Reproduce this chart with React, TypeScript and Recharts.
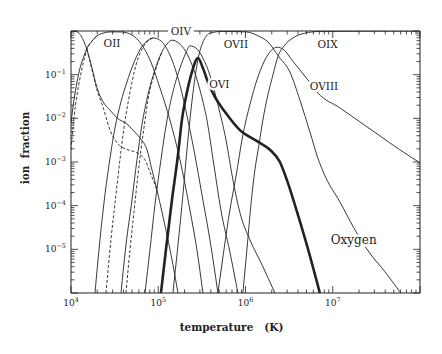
import { Line, LineChart, ReferenceDot, XAxis, YAxis } from "recharts";

// every point is [log10 T (K), log10 ion fraction]
type Pt = [number, number];

const OI: Pt[] = [[4.0, 0], [4.07, -0.02], [4.115, -0.11], [4.15, -0.25], [4.183, -0.43], [4.241, -0.85], [4.298, -1.3], [4.367, -1.62], [4.447, -1.81], [4.527, -1.99], [4.641, -2.13], [4.71, -2.27], [4.79, -2.45], [4.871, -2.72], [4.928, -3.18], [4.985, -3.64], [5.042, -4.14], [5.1, -4.67], [5.168, -5.35], [5.226, -6.0]];
const OI_ALT: Pt[] = [[4.183, -0.43], [4.241, -0.89], [4.298, -1.35], [4.367, -1.74], [4.447, -2.27], [4.504, -2.49], [4.561, -2.63], [4.653, -2.72], [4.756, -2.79], [4.848, -2.95], [4.905, -3.23], [4.962, -3.52], [4.985, -3.64]];
const OII: Pt[] = [[4.0, -2.11], [4.034, -1.58], [4.069, -1.17], [4.103, -0.85], [4.149, -0.57], [4.183, -0.39], [4.241, -0.23], [4.298, -0.11], [4.367, -0.05], [4.447, -0.02], [4.561, -0.02], [4.653, -0.05], [4.733, -0.14], [4.813, -0.32], [4.905, -0.66], [5.019, -1.3], [5.134, -2.04], [5.249, -2.95], [5.363, -4.1], [5.443, -5.01], [5.512, -6.0]];
const OII_ALT: Pt[] = [[4.0, -2.72], [4.034, -1.99], [4.069, -1.46], [4.103, -1.08], [4.149, -0.66], [4.183, -0.43], [4.241, -0.23], [4.298, -0.11]];
const OIII: Pt[] = [[4.275, -6.0], [4.332, -4.78], [4.389, -3.75], [4.447, -2.91], [4.504, -2.22], [4.573, -1.62], [4.641, -1.17], [4.71, -0.78], [4.79, -0.43], [4.871, -0.23], [4.939, -0.16], [5.019, -0.21], [5.134, -0.55], [5.249, -1.24], [5.34, -2.04], [5.42, -2.84], [5.501, -3.75], [5.592, -4.78], [5.684, -6.0]];
const OIII_ALT: Pt[] = [[4.401, -6.0], [4.458, -4.78], [4.515, -3.75], [4.561, -2.95], [4.607, -2.22], [4.653, -1.65], [4.699, -1.17], [4.745, -0.78], [4.802, -0.46], [4.871, -0.25], [4.939, -0.16]];
const OIV: Pt[] = [[4.573, -6.0], [4.63, -4.9], [4.699, -3.87], [4.756, -2.95], [4.813, -2.15], [4.882, -1.46], [4.962, -0.89], [5.042, -0.48], [5.1, -0.3], [5.157, -0.21], [5.249, -0.3], [5.363, -0.66], [5.478, -1.35], [5.558, -2.04], [5.638, -3.07], [5.718, -4.1], [5.821, -5.06], [5.913, -6.0]];
const OIV_ALT: Pt[] = [[4.63, -6.0], [4.676, -5.01], [4.722, -4.14], [4.767, -3.3], [4.802, -2.72], [4.836, -2.22], [4.882, -1.58], [4.962, -0.94], [5.042, -0.48]];
const OV: Pt[] = [[4.848, -6.0], [4.905, -5.01], [4.962, -3.98], [5.031, -2.95], [5.1, -2.04], [5.18, -1.3], [5.249, -0.85], [5.317, -0.5], [5.363, -0.34], [5.432, -0.39], [5.512, -0.62], [5.592, -1.01], [5.684, -1.69], [5.776, -2.49], [5.856, -3.41], [5.936, -4.16], [6.05, -4.78], [6.188, -5.35], [6.337, -6.0]];
const OVI: Pt[] = [[5.031, -6.0], [5.088, -5.01], [5.157, -3.87], [5.226, -2.84], [5.271, -2.04], [5.329, -1.4], [5.386, -0.94], [5.455, -0.62], [5.512, -0.85], [5.569, -1.17], [5.649, -1.51], [5.764, -1.85], [5.936, -2.27], [6.131, -2.52], [6.28, -2.72], [6.394, -3.0], [6.474, -3.41], [6.566, -3.98], [6.703, -4.9], [6.852, -6.0]];
const OVII: Pt[] = [[5.168, -6.0], [5.226, -4.9], [5.283, -3.75], [5.329, -2.72], [5.375, -1.81], [5.42, -1.08], [5.466, -0.55], [5.523, -0.21], [5.592, -0.05], [5.73, -0.01], [6.005, -0.02], [6.142, -0.11], [6.257, -0.25], [6.383, -0.59], [6.509, -0.94], [6.623, -1.58], [6.738, -2.31], [6.829, -2.91], [6.921, -3.36], [7.081, -3.91], [7.242, -4.51], [7.414, -5.06], [7.597, -5.51], [7.78, -6.0]];
const OVIII: Pt[] = [[5.684, -6.0], [5.753, -5.01], [5.821, -4.1], [5.89, -3.34], [5.97, -2.38], [6.05, -1.69], [6.131, -1.12], [6.211, -0.71], [6.28, -0.48], [6.36, -0.37], [6.44, -0.43], [6.531, -0.66], [6.623, -0.89], [6.715, -1.12], [6.829, -1.42], [7.081, -1.76], [7.31, -2.08], [7.54, -2.4], [7.769, -2.72], [8.0, -3.02]];
const OIX: Pt[] = [[5.97, -6.0], [6.016, -5.01], [6.062, -3.98], [6.108, -3.18], [6.154, -2.61], [6.199, -2.04], [6.257, -1.46], [6.314, -1.01], [6.371, -0.59], [6.451, -0.32], [6.543, -0.16], [6.68, -0.05], [6.852, -0.01], [8.0, 0]];

// curve labels: [text, log T, log f]
const LABELS: [string, number, number][] = [
  ["OII", 4.47, -0.27],
  ["OVII", 5.89, -0.3],
  ["OIX", 6.94, -0.3],
  ["OVI", 5.7, -1.21],
  ["OVIII", 6.9, -1.26],
];
// label sitting on the top frame (the frame is broken around it), at this log T
const FRAME_LABEL: [string, number] = ["OIV", 5.26];
const TITLE_LABEL: [string, number, number] = ["Oxygen", 7.24, -4.78];

const X_DOMAIN = [4, 8];
const X_DECADES = [4, 5, 6, 7];
const X_LABELED = [4, 5, 6, 7];
const Y_DECADES = [-6, -5, -4, -3, -2, -1];
const Y_LABELED = [-5, -4, -3, -2, -1];
const MINOR = [1, 2, 3, 4, 5, 6, 7, 8, 9];

const X_TICKS = [...X_DECADES.flatMap((d) => MINOR.map((k) => d + Math.log10(k))), 8];
const Y_TICKS = [...Y_DECADES.flatMap((d) => MINOR.map((k) => d + Math.log10(k))), 0];

const W = 442;
const H = 354;
const MARGIN = { top: 30, right: 21, bottom: 0, left: 0 };
const Y_AXIS_W = 71;
const PLOT_W = W - MARGIN.left - MARGIN.right - Y_AXIS_W - 1;
const FRAME_GAP = 26;
const gapCenter = ((FRAME_LABEL[1] - X_DOMAIN[0]) / (X_DOMAIN[1] - X_DOMAIN[0])) * PLOT_W;
const TOP_DASH = `${gapCenter - FRAME_GAP / 2} ${FRAME_GAP} ${PLOT_W}`;

const INK = "#222";
const SERIF = '"DejaVu Serif", "Liberation Serif", serif';
const MAJOR_LEN = 7;
const MINOR_LEN = 3.5;

const SERIES = [
  { id: "OI", pts: OI, width: 0.9, dash: undefined },
  { id: "OI-alt", pts: OI_ALT, width: 0.9, dash: "3 2" },
  { id: "OII", pts: OII, width: 0.9, dash: undefined },
  { id: "OII-alt", pts: OII_ALT, width: 0.9, dash: "3 2" },
  { id: "OIII", pts: OIII, width: 0.9, dash: undefined },
  { id: "OIII-alt", pts: OIII_ALT, width: 0.9, dash: "3 2" },
  { id: "OIV", pts: OIV, width: 0.9, dash: undefined },
  { id: "OIV-alt", pts: OIV_ALT, width: 0.9, dash: "3 2" },
  { id: "OV", pts: OV, width: 0.9, dash: undefined },
  { id: "OVII", pts: OVII, width: 0.9, dash: undefined },
  { id: "OVIII", pts: OVIII, width: 0.9, dash: undefined },
  { id: "OIX", pts: OIX, width: 0.9, dash: undefined },
  { id: "OVI", pts: OVI, width: 2.6, dash: undefined },
];

const rows = (pts: Pt[]) => pts.map(([t, f]) => ({ t, f }));
const isMajor = (v: number) => Math.abs(v - Math.round(v)) < 1e-9;

function BottomTick({ x, y, payload }: any) {
  const v = payload.value;
  const exp = Math.round(v);
  return (
    <g>
      <line x1={x} y1={y} x2={x} y2={y - (isMajor(v) ? MAJOR_LEN : MINOR_LEN)} stroke={INK} strokeWidth={0.8} />
      {isMajor(v) && X_LABELED.includes(exp) && (
        <text x={x} y={y + 13} textAnchor="middle" fontSize={9} fill={INK} fontFamily={SERIF}>
          10<tspan dy={-4} fontSize={6.5}>{exp}</tspan>
        </text>
      )}
    </g>
  );
}

function TopTick({ x, y, payload }: any) {
  const v = payload.value;
  const hidden = Math.abs(v - FRAME_LABEL[1]) * (PLOT_W / (X_DOMAIN[1] - X_DOMAIN[0])) < FRAME_GAP / 2;
  if (hidden) return <g />;
  return <line x1={x} y1={y} x2={x} y2={y + (isMajor(v) ? MAJOR_LEN : MINOR_LEN)} stroke={INK} strokeWidth={0.8} />;
}

function LeftTick({ x, y, payload }: any) {
  const v = payload.value;
  const exp = Math.round(v);
  return (
    <g>
      <line x1={x} y1={y} x2={x + (isMajor(v) ? MAJOR_LEN : MINOR_LEN)} y2={y} stroke={INK} strokeWidth={0.8} />
      {isMajor(v) && Y_LABELED.includes(exp) && (
        <text x={x - 5} y={y + 3} textAnchor="end" fontSize={9} fill={INK} fontFamily={SERIF}>
          10<tspan dy={-4} fontSize={6.5}>{`\u2212${-exp}`}</tspan>
        </text>
      )}
    </g>
  );
}

function RightTick({ x, y, payload }: any) {
  const v = payload.value;
  return <line x1={x} y1={y} x2={x - (isMajor(v) ? MAJOR_LEN : MINOR_LEN)} y2={y} stroke={INK} strokeWidth={0.8} />;
}

function haloText(text: string, x: number, y: number, size: number) {
  return (
    <text
      x={x}
      y={y}
      textAnchor="middle"
      dominantBaseline="central"
      fontSize={size}
      fontFamily={SERIF}
      fill={INK}
      stroke="#fff"
      strokeWidth={5}
      strokeLinejoin="round"
      paintOrder="stroke"
    >
      {text}
    </text>
  );
}

const curveLabel = (text: string, size: number) => (p: any) => haloText(text, p.cx, p.cy, size);

export default function App() {
  return (
    <div style={{ position: "absolute", left: 0, top: 0, width: W, height: H, background: "#fff" }}>
      <LineChart width={W} height={H} margin={MARGIN}>
        <XAxis
          xAxisId="b"
          dataKey="t"
          type="number"
          domain={X_DOMAIN}
          allowDataOverflow
          ticks={X_TICKS}
          interval={0}
          height={61}
          tickSize={0}
          tickMargin={0}
          tickLine={false}
          axisLine={{ stroke: INK, strokeWidth: 1 }}
          tick={(p: any) => <BottomTick {...p} />}
          label={{
            content: (p: any) => {
              const vb = p.viewBox || { x: 71, y: 293, width: 349 };
              return (
                <text x={vb.x + vb.width / 2 - 14} y={vb.y + 38} textAnchor="middle" fontSize={10.5} fontWeight="bold" fill={INK} fontFamily={SERIF}>
                  {"temperature\u00a0\u00a0\u00a0(K)"}
                </text>
              );
            },
          }}
        />
        <XAxis
          xAxisId="top"
          orientation="top"
          dataKey="t"
          type="number"
          domain={X_DOMAIN}
          allowDataOverflow
          ticks={X_TICKS}
          interval={0}
          height={1}
          tickSize={0}
          tickMargin={0}
          tickLine={false}
          axisLine={{ stroke: INK, strokeWidth: 1, strokeDasharray: TOP_DASH }}
          tick={(p: any) => <TopTick {...p} />}
        />
        <YAxis
          yAxisId="l"
          dataKey="f"
          type="number"
          domain={[-6, 0]}
          allowDataOverflow
          ticks={Y_TICKS}
          interval={0}
          width={Y_AXIS_W}
          tickSize={0}
          tickMargin={0}
          tickLine={false}
          axisLine={{ stroke: INK, strokeWidth: 1 }}
          tick={(p: any) => <LeftTick {...p} />}
          label={{
            content: () => {
              const cx = 25;
              const cy = 148;
              return (
                <text x={cx} y={cy} transform={`rotate(-90 ${cx} ${cy})`} textAnchor="middle" dominantBaseline="central" fontSize={10.5} fontWeight="bold" fill={INK} fontFamily={SERIF}>
                  {"ion\u00a0\u00a0fraction"}
                </text>
              );
            },
          }}
        />
        <YAxis
          yAxisId="r"
          orientation="right"
          dataKey="f"
          type="number"
          domain={[-6, 0]}
          allowDataOverflow
          ticks={Y_TICKS}
          interval={0}
          width={1}
          tickSize={0}
          tickMargin={0}
          tickLine={false}
          axisLine={{ stroke: INK, strokeWidth: 1 }}
          tick={(p: any) => <RightTick {...p} />}
        />
        {/* invisible copy so the mirrored top/right axes get drawn */}
        <Line
          xAxisId="top"
          yAxisId="r"
          data={rows(OIX)}
          dataKey="f"
          stroke="none"
          dot={false}
          activeDot={false}
          legendType="none"
          isAnimationActive={false}
        />
        {SERIES.map((s) => (
          <Line
            key={s.id}
            xAxisId="b"
            yAxisId="l"
            data={rows(s.pts)}
            dataKey="f"
            type="monotone"
            stroke={INK}
            strokeWidth={s.width}
            strokeDasharray={s.dash}
            dot={false}
            activeDot={false}
            legendType="none"
            isAnimationActive={false}
          />
        ))}
        {LABELS.map(([text, t, f]) => (
          <ReferenceDot key={text} xAxisId="b" yAxisId="l" x={t} y={f} r={1} ifOverflow="visible" shape={curveLabel(text, 10.5)} />
        ))}
        <ReferenceDot xAxisId="b" yAxisId="l" x={FRAME_LABEL[1]} y={0} r={1} ifOverflow="visible" shape={curveLabel(FRAME_LABEL[0], 10.5)} />
        <ReferenceDot xAxisId="b" yAxisId="l" x={TITLE_LABEL[1]} y={TITLE_LABEL[2]} r={1} ifOverflow="visible" shape={curveLabel(TITLE_LABEL[0], 12)} />
      </LineChart>
    </div>
  );
}
